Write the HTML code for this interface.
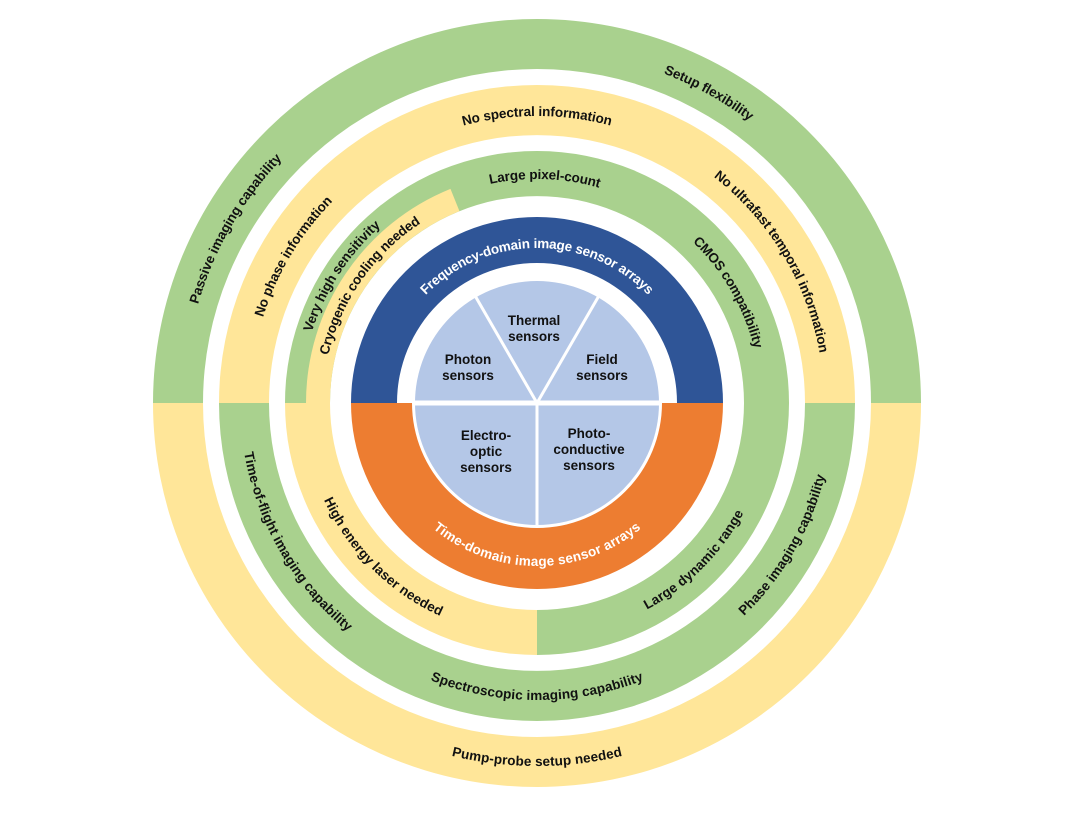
<!DOCTYPE html>
<html><head><meta charset="utf-8"><style>
html,body{margin:0;padding:0;background:#fff;}
svg{display:block}
text{font-family:"Liberation Sans",Arial,sans-serif;font-weight:bold;font-size:13.5px;fill:#111;}
</style></head><body>
<svg id="s" width="1080" height="820" viewBox="0 0 1080 820" xmlns="http://www.w3.org/2000/svg"></svg>
<script>
var cx=537,cy=403,s=document.getElementById('s'),NS='http://www.w3.org/2000/svg',n=0;
function P(r,a){a=a*Math.PI/180;return [cx+r*Math.cos(a),cy-r*Math.sin(a)];}
function add(tag,attrs,txt){var e=document.createElementNS(NS,tag);for(var k in attrs)e.setAttribute(k,attrs[k]);if(txt)e.textContent=txt;s.appendChild(e);return e;}
function sec(r1,r2,a1,a2,c){var p1=P(r2,a1),p2=P(r2,a2),p3=P(r1,a2),p4=P(r1,a1),l=(a2-a1)>180?1:0;
add('path',{d:'M'+p1+' A'+r2+' '+r2+' 0 '+l+' 0 '+p2+' L'+p3+' A'+r1+' '+r1+' 0 '+l+' 1 '+p4+'Z',fill:c});}
var G='#a9d18e',Y='#ffe699';
sec(334,384,0,180,G);sec(334,384,180,360,Y);
sec(268,318,0,180,Y);sec(268,318,180,360,G);
sec(207,252,0,180,G);sec(207,231,112,180,Y);
sec(207,252,180,270,Y);sec(207,252,270,360,G);
sec(140,186,0,180,'#2f5597');sec(125,186,180,360,'#ed7d31');
var LB='#b4c7e7';
add('circle',{cx:cx,cy:cy,r:122,fill:LB});
function ln(a,w){var p=P(123,a);add('line',{x1:cx,y1:cy,x2:p[0],y2:p[1],stroke:'#fff','stroke-width':w});}
ln(60,3);ln(120,3);ln(270,3);
add('line',{x1:cx-124,y1:cy,x2:cx+124,y2:cy,stroke:'#fff','stroke-width':5});
function lab(x,y,lines){lines.forEach(function(t,i){add('text',{x:x,y:y+i*16,'text-anchor':'middle'},t);});}
lab(534,325,['Thermal','sensors']);lab(468,364,['Photon','sensors']);lab(602,364,['Field','sensors']);
lab(486,440,['Electro-','optic','sensors']);lab(589,438,['Photo-','conductive','sensors']);
function at(t,r,a,top,col){var id='p'+(n++),sp=80,d;
if(top){var p1=P(r,a+sp),p2=P(r,a-sp);d='M'+p1+' A'+r+' '+r+' 0 0 1 '+p2;}
else{var p1=P(r,a-sp),p2=P(r,a+sp);d='M'+p1+' A'+r+' '+r+' 0 0 0 '+p2;}
add('path',{id:id,d:d,fill:'none'});
var e=add('text',{'dominant-baseline':'central'});if(col)e.setAttribute('style','fill:'+col);
var tp=document.createElementNS(NS,'textPath');tp.setAttribute('href','#'+id);tp.setAttributeNS('http://www.w3.org/1999/xlink','xlink:href','#'+id);
tp.setAttribute('startOffset','50%');tp.setAttribute('text-anchor','middle');tp.textContent=t;e.appendChild(tp);}
at('Setup flexibility',358,61,1);at('Passive imaging capability',358,150,1);at('Pump-probe setup needed',358,270,0);
at('No spectral information',292,90,1);at('No phase information',292,149,1);at('No ultrafast temporal information',292,31,1);
at('Time-of-flight imaging capability',292,210,0);at('Spectroscopic imaging capability',292,270,0);at('Phase imaging capability',292,330,0);
at('Large pixel-count',229,88,1);at('CMOS compatibility',229,30,1);at('Very high sensitivity',241,147,1);at('Cryogenic cooling needed',219,145,1);
at('High energy laser needed',229,225,0);at('Large dynamic range',229,315,0);
at('Frequency-domain image sensor arrays',160,90,1,'#fff');at('Time-domain image sensor arrays',158,270,0,'#fff');
</script>
</body></html>
